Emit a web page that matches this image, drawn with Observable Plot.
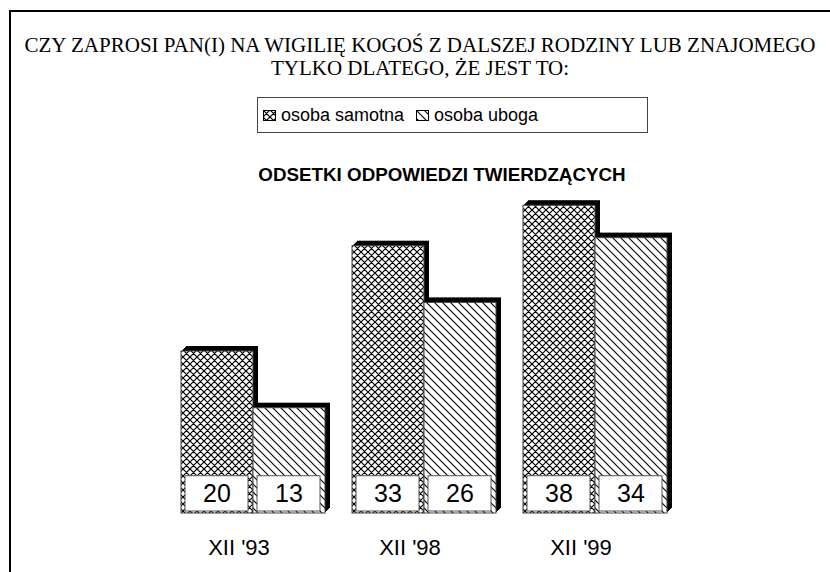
<!DOCTYPE html>
<html>
<head>
<meta charset="utf-8">
<script src="https://cdn.jsdelivr.net/npm/d3@7"></script>
<script src="https://cdn.jsdelivr.net/npm/@observablehq/plot@0.6"></script>
<style>
  body { margin: 0; background: #fff; }
  #wrap { position: relative; width: 830px; height: 572px; overflow: hidden; background: #fff; }
  #frame { position: absolute; left: 9px; top: 10px; width: 900px; height: 700px;
           border-left: 2px solid #000; border-top: 2px solid #000; box-sizing: border-box; }
  #chart { position: absolute; left: 0; top: 0; }
  #title { position: absolute; left: -30px; width: 900px; top: 33px; text-align: center;
           font-family: "Liberation Serif", "Times New Roman", serif; font-size: 22px; line-height: 23px; color: #000;
           transform: scaleX(0.955); transform-origin: 450px 0; white-space: nowrap; }
  #legend { position: absolute; left: 257px; top: 97px; width: 391px; height: 36px; box-sizing: border-box;
            border: 1px solid #444; font-family: "Liberation Sans", Arial, sans-serif; font-size: 18px; }
  .item { position: absolute; top: 0; height: 34px; display: flex; align-items: center; white-space: nowrap; }
  .item svg { margin-right: 5px; }
  #subtitle { position: absolute; left: 10px; width: 820px; top: 164px; text-align: center;
              font-family: "Liberation Sans", Arial, sans-serif; font-weight: bold; font-size: 18.8px; padding-left: 44px; box-sizing: border-box; }
</style>
</head>
<body>
<div id="wrap">
  <div id="chart"></div>
  <div id="frame"></div>
  <div id="title">CZY ZAPROSI PAN(I) NA WIGILIĘ KOGOŚ Z DALSZEJ RODZINY LUB ZNAJOMEGO<br>TYLKO DLATEGO, ŻE JEST TO:</div>
  <div id="legend"></div>
  <div id="subtitle">ODSETKI ODPOWIEDZI TWIERDZĄCYCH</div>
</div>
<script>
// ---- data ----
const groups = ["XII '93", "XII '98", "XII '99"];
const seriesNames = ["osoba samotna", "osoba uboga"];
const samotna = [20, 33, 38];
const uboga = [13, 26, 34];

const patternOf = { "osoba samotna": "url(#pat-cross)", "osoba uboga": "url(#pat-diag)" };

const data = groups.flatMap((g, i) => [
  { group: g, series: seriesNames[0], value: samotna[i] },
  { group: g, series: seriesNames[1], value: uboga[i] }
]);

const LABEL_BOX_TOP = 4.6; // height of the value box in y units
const DEPTH = [1, 2, 3, 4, 5]; // extrusion steps of the 3D effect

const plot = Plot.plot({
  width: 830,
  height: 572,
  marginTop: 189,
  marginBottom: 59,
  marginLeft: 179,
  marginRight: 162,
  style: { fontFamily: "'Liberation Sans', Arial, sans-serif", background: "transparent", color: "#000" },
  fx: { domain: groups, paddingInner: 0.15, paddingOuter: 0 },
  x: { domain: seriesNames, padding: 0, axis: null },
  y: { domain: [0, 40], axis: null },
  marks: [
    // 3D depth (black top & right faces)
    ...DEPTH.map(k => Plot.barY(data, { fx: "group", x: "series", y: "value", fill: "#000", dx: k, dy: -k })),
    // patterned bars
    ...seriesNames.map(s =>
      Plot.barY(data.filter(d => d.series === s), {
        fx: "group", x: "series", y: "value", fill: patternOf[s], stroke: "#444", strokeWidth: 1
      })
    ),
    // value boxes
    Plot.barY(data, {
      fx: "group", x: "series", y1: 0, y2: LABEL_BOX_TOP,
      fill: "#fff", stroke: "#555", strokeWidth: 1, insetLeft: 4, insetRight: 5, insetBottom: 2
    }),
    Plot.text(data, {
      fx: "group", x: "series", frameAnchor: "bottom", dy: -19.5, dx: -0.5, text: "value",
      fontSize: 25, lineAnchor: "middle", fill: "#000"
    }),
    Plot.axisFx({ anchor: "bottom", tickSize: 0, tickPadding: 26, dx: -14, fontSize: 22, label: null })
  ]
});

const defs = d3.select(plot).insert("defs", ":first-child");
const cross = defs.append("pattern").attr("id", "pat-cross").attr("patternUnits", "userSpaceOnUse")
  .attr("width", 7).attr("height", 7);
cross.append("rect").attr("width", 7).attr("height", 7).attr("fill", "#fff");
cross.append("path").attr("d", "M0,0L7,7M-1,6L1,8M6,-1L8,1M7,0L0,7M-1,1L1,-1M6,8L8,6")
  .attr("stroke", "#000").attr("stroke-width", 1.2);
const diag = defs.append("pattern").attr("id", "pat-diag").attr("patternUnits", "userSpaceOnUse")
  .attr("width", 8).attr("height", 8);
diag.append("rect").attr("width", 8).attr("height", 8).attr("fill", "#fff");
diag.append("path").attr("d", "M0,0L8,8M-1,7L1,9M7,-1L9,1")
  .attr("stroke", "#000").attr("stroke-width", 1.1);

document.getElementById("chart").appendChild(plot);

// legend
const legend = d3.select("#legend");
const lefts = [5, 158];
seriesNames.forEach((s, i) => {
  const item = legend.append("div").attr("class", "item").style("left", lefts[i] + "px");
  const sw = item.append("svg").attr("width", 13).attr("height", 11);
  sw.append("rect").attr("x", 0.5).attr("y", 0.5).attr("width", 12).attr("height", 10)
    .attr("fill", patternOf[s]).attr("stroke", "#000").attr("stroke-width", 1);
  item.append("span").text(s);
});
</script>
</body>
</html>
